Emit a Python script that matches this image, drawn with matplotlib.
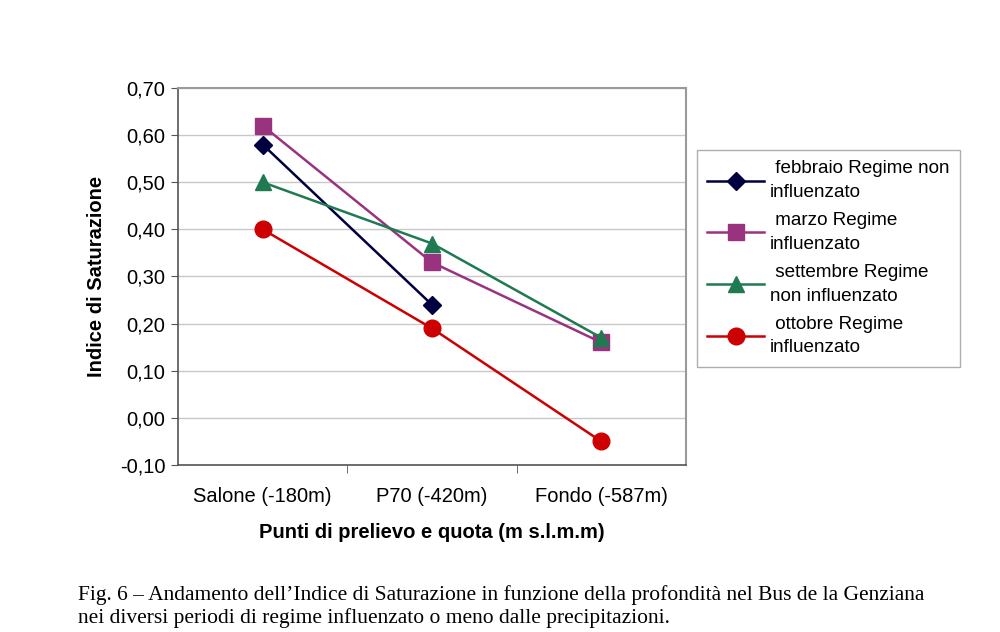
import matplotlib
matplotlib.use("Agg")
import matplotlib.pyplot as plt
from matplotlib.ticker import FixedLocator, FuncFormatter

categories = ["Salone (-180m)", "P70 (-420m)", "Fondo (-587m)"]

febbraio = [0.58, 0.24]
marzo = [0.62, 0.33, 0.16]
settembre = [0.50, 0.37, 0.17]
ottobre = [0.40, 0.19, -0.05]

labels = [
    " febbraio Regime non\ninfluenzato",
    " marzo Regime\ninfluenzato",
    " settembre Regime\nnon influenzato",
    " ottobre Regime\ninfluenzato",
]

caption = ("Fig. 6 \u2013 Andamento dell\u2019Indice di Saturazione in funzione della profondit\u00e0 nel Bus de la Genziana\n"
           "nei diversi periodi di regime influenzato o meno dalle precipitazioni.")

plt.rcParams["font.family"] = ["Liberation Sans", "DejaVu Sans"]

fig = plt.figure(figsize=(10, 6.32), dpi=100)
ax = fig.add_axes([0.178, 0.2642, 0.508, 0.5966])

series = [
    (febbraio, "#000040", "D", 9),
    (marzo, "#993380", "s", 11),
    (settembre, "#1f7a52", "^", 11),
    (ottobre, "#cc0000", "o", 12),
]
handles = []
for (vals, col, mk, ms), lab in zip(series, labels):
    x = list(range(len(vals)))
    h, = ax.plot(x, vals, color=col, marker=mk, markersize=ms, linewidth=1.8, label=lab)
    handles.append(h)

ax.set_xlim(-0.5, 2.5)
ax.set_ylim(-0.10, 0.70)
ax.set_yticks([-0.1 + 0.1 * i for i in range(9)])
ax.yaxis.set_major_formatter(FuncFormatter(lambda v, p: f"{v:.2f}".replace(".", ",").replace("-0,00", "0,00")))
ax.set_xticks(range(len(categories)))
ax.set_xticklabels(categories)
ax.xaxis.set_minor_locator(FixedLocator([0.5, 1.5]))
ax.tick_params(axis="x", which="major", length=0, labelsize=14.5, pad=16)
ax.tick_params(axis="x", which="minor", length=6, color="#555555", direction="out")
ax.tick_params(axis="y", length=5, color="#555555", labelsize=14.5, pad=4)
ax.grid(True, axis="y", color="#c8c8c8", linewidth=1)
ax.set_axisbelow(True)
for s in ["left", "bottom"]:
    ax.spines[s].set_color("#555555")
    ax.spines[s].set_linewidth(1.2)
for s in ["top", "right"]:
    ax.spines[s].set_color("#9a9a9a")
    ax.spines[s].set_linewidth(1.5)

ax.set_ylabel("Indice di Saturazione", fontsize=14.5, fontweight="bold", labelpad=10)
ax.set_xlabel("Punti di prelievo e quota (m s.l.m.m)", fontsize=14.5, fontweight="bold", labelpad=12)

leg = fig.legend(handles=handles, loc="upper left", bbox_to_anchor=(0.697, 0.7627),
                 borderaxespad=0, fontsize=13.6, frameon=True, fancybox=False,
                 edgecolor="#9a9a9a", handlelength=3.0, labelspacing=0.6,
                 borderpad=0.55, handletextpad=0.3)
leg.get_frame().set_linewidth(1.0)
for t in leg.get_texts():
    t.set_linespacing(1.5)

fig.text(0.078, 0.040, caption, fontsize=15.5, family=["Liberation Serif", "DejaVu Serif"],
         ha="left", va="center", linespacing=1.2)

fig.savefig("out.png", dpi=100)
